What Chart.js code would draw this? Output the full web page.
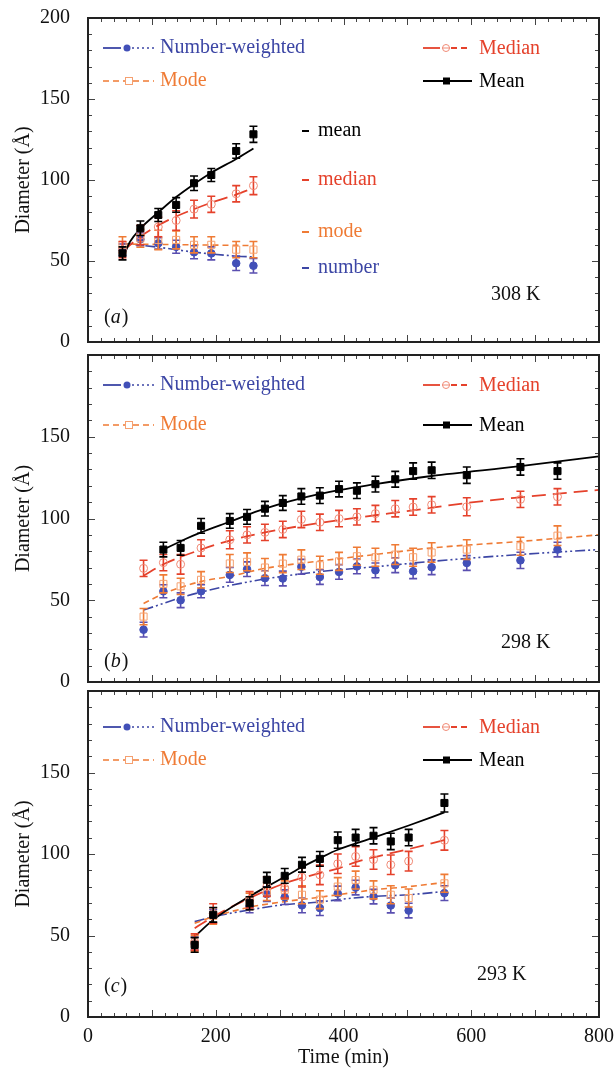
<!DOCTYPE html>
<html>
<head>
<meta charset="utf-8">
<script src="https://cdn.jsdelivr.net/npm/chart.js@4.4.1/dist/chart.umd.min.js"></script>
<style>
  html, body { margin: 0; padding: 0; background: #fff; }
  #wrap { position: relative; width: 616px; height: 1070px; overflow: hidden; }
  .panel { position: absolute; left: 0; width: 616px; }
</style>
</head>
<body>
<div id="wrap">
  <div class="panel" style="top:0px; height:352px"><canvas id="panel-a"></canvas></div>
  <div class="panel" style="top:344px; height:350px"><canvas id="panel-b"></canvas></div>
  <div class="panel" style="top:683px; height:387px"><canvas id="panel-c"></canvas></div>
</div>
<script>
// ---- panel (a) 308 K ----
const timeA = [54, 82, 110, 138, 166, 193, 232, 259];
const meanA = [54.7, 70.2, 78.4, 84.6, 98, 103.1, 117.9, 128.2];
const meanErrA = [4, 4.5, 4, 4.5, 4.5, 4, 4.5, 5];
const medianA = [57, 66, 71, 75, 82, 85, 91.5, 96.5];
const medianErrA = [5, 6, 6, 6, 5.5, 5, 5, 5.5];
const modeA = [60, 64, 63, 63, 60, 60, 57, 57];
const modeErrA = [5, 5.5, 6, 5.5, 5, 5, 5, 5];
const numberA = [57, 63.4, 60.9, 58.8, 55.4, 54.7, 48.6, 47.1];
const numberErrA = [3.5, 4, 3.5, 4, 4, 4, 4.5, 4.5];

const meanFitTimeA = [54, 66, 82, 110, 138, 166, 193, 232, 259];
const meanFitA = [51.5, 62, 70, 80, 89.5, 97.5, 104.5, 113, 119.5];
const medianFitTimeA = [54, 82, 110, 138, 166, 193, 232, 259];
const medianFitA = [56, 65, 72, 77.5, 82, 86, 91, 95];
const modeFitTimeA = [54, 160, 259];
const modeFitA = [60.5, 60, 59.5];
const numberFitTimeA = [54, 110, 166, 232, 259];
const numberFitA = [61, 58.5, 55.5, 53, 52.5];

// ---- panel (b) 298 K ----
const timeB = [87, 118, 145, 177, 222, 249, 277, 305, 334, 363, 393, 421, 450, 481, 509, 538, 593, 677, 735];
const meanB = [null, 81, 82, 95.5, 98.5, 101, 106, 109.5, 113.5, 114, 118, 117, 121, 124, 129, 129.5, 126.5, 131.5, 129];
const meanErrB = [0, 4.5, 4.5, 4.5, 4.5, 4.5, 4.5, 4.5, 4.8, 4.8, 4.8, 4.8, 4.8, 4.8, 5, 5, 5, 5, 5];
const medianB = [69.5, 73, 72, 82, 87, 90, 91.5, 93.3, 99.4, 97.7, 100, 101, 103, 106, 107, 108.4, 107.2, 111.7, 113.3];
const medianErrB = [5, 5, 6, 5, 5.5, 5, 5, 5, 5, 5, 5, 5, 5, 5, 5, 5, 5.5, 5, 5];
const modeB = [40, 60, 58.5, 62.5, 72.5, 73.5, 70, 72.4, 74.8, 71.4, 73.8, 76.9, 76.3, 77.9, 76.3, 79.2, 81, 83, 89.5];
const modeErrB = [5, 5.5, 5, 5, 5.5, 5.5, 5.5, 5.5, 6, 5.5, 5.5, 5.5, 5.5, 6, 5.5, 6, 6, 5.5, 6];
const numberB = [32, 55.5, 50, 55.5, 65.5, 69, 63.5, 63.3, 70.5, 64.2, 67.3, 70.7, 68.3, 71.4, 67.7, 70.2, 72.8, 74.4, 81];
const numberErrB = [4.5, 4, 4.5, 4, 4.5, 4.5, 4.5, 4.5, 4.5, 4.5, 4.5, 4.5, 4.5, 4.5, 4.5, 4.5, 4.5, 5, 4.5];

const meanFitTimeB = [118, 150, 177, 222, 277, 363, 450, 538, 677, 800];
const meanFitB = [81, 87, 91.5, 98, 106, 115, 121, 126, 132, 138];
const medianFitTimeB = [87, 118, 177, 222, 277, 334, 421, 509, 593, 677, 800];
const medianFitB = [65, 72, 81, 86.5, 91.5, 95.5, 100.5, 105, 109.5, 113, 117.5];
const modeFitTimeB = [87, 118, 177, 222, 277, 363, 450, 538, 677, 800];
const modeFitB = [48, 54, 61.5, 64.6, 69.5, 74, 78, 82, 86, 90];
const numberFitTimeB = [87, 145, 177, 222, 277, 363, 450, 538, 677, 800];
const numberFitB = [44, 51.5, 55, 59, 63, 67.5, 70.5, 73.8, 78, 81];

// ---- panel (c) 293 K ----
const timeC = [167, 196, 253, 280, 308, 335, 363, 391, 419, 447, 474, 502, 558];
const meanC = [44.2, 62.7, 69.8, 84.2, 86.6, 93.4, 97, 108.5, 110.1, 111.2, 107.7, 110.1, 131.3];
const meanErrC = [4.5, 4.5, 4, 4.5, 4.5, 4.5, 4.5, 5, 5, 5, 5, 5, 5.5];
const medianC = [46, 63.5, 72, 80, 79, 85.8, 87.2, 94, 98.5, 96.6, 93.4, 95.6, 108.4];
const medianErrC = [5, 6, 5, 6, 6, 6, 6, 6, 6, 6, 6, 6, 6];
const modeC = [45, 62, 71, 77, 78, 75, 72, 80, 84, 78, 75, 73, 82];
const modeErrC = [5, 5, 5, 5.5, 5.5, 5.5, 5.5, 5.5, 5.5, 5.5, 5.5, 5.5, 5.5];
const numberC = [45, 62, 68, 75.4, 73.5, 68.5, 66.8, 75.8, 79.4, 73.9, 68.4, 65.3, 76];
const numberErrC = [4, 4, 4, 4.5, 4.5, 4.5, 4.5, 4.5, 4.5, 4.5, 4.5, 4.5, 4.5];

const meanFitTimeC = [167, 196, 253, 280, 308, 335, 363, 391, 447, 502, 558];
const meanFitC = [49.3, 59.6, 74, 80, 86, 92, 97.5, 102.6, 110, 117.5, 125.5];
const medianFitTimeC = [167, 196, 253, 308, 363, 391, 419, 447, 502, 558];
const medianFitC = [54.5, 61.5, 73, 82, 88.3, 91, 95, 98, 103, 108.5];
const modeFitTimeC = [167, 196, 253, 308, 363, 391, 447, 502, 558];
const modeFitC = [57.5, 61.5, 67.4, 70.8, 73.5, 75, 78, 80, 82.5];
const numberFitTimeC = [167, 196, 253, 308, 363, 391, 447, 502, 558];
const numberFitC = [58.5, 61.5, 65.7, 69, 70.5, 72, 74, 75, 77];

const yTickLabels = ['0', '50', '100', '150', '200'];
const xTickLabels = ['0', '200', '400', '600', '800'];

const FONT = '"Liberation Serif", "DejaVu Serif", serif';
const BLACK = '#000000';
const RED = '#e5412b';
const ORANGE = '#ef7b35';
const BLUE = '#3c46a5';

function points(xs, ys, errs) {
  const out = [];
  xs.forEach(function(x, i) {
    if (ys[i] !== null) out.push({ x: x, y: ys[i], e: errs ? errs[i] : 0 });
  });
  return out;
}

// error bars are drawn just before each point set
const errorBars = {
  id: 'errorBars',
  beforeDatasetDraw(chart, args) {
    const ds = chart.data.datasets[args.index];
    if (!ds.errColor) return;
    const { ctx, scales: { x, y } } = chart;
    ctx.save();
    ctx.strokeStyle = ds.errColor;
    ctx.lineWidth = 1.6;
    ds.data.forEach(function(p) {
      const px = x.getPixelForValue(p.x);
      const top = y.getPixelForValue(p.y + p.e);
      const bot = y.getPixelForValue(p.y - p.e);
      ctx.beginPath();
      ctx.moveTo(px, top); ctx.lineTo(px, bot);
      ctx.moveTo(px - 4, top); ctx.lineTo(px + 4, top);
      ctx.moveTo(px - 4, bot); ctx.lineTo(px + 4, bot);
      ctx.stroke();
    });
    ctx.restore();
  }
};

// box frame with inward ticks on all four sides
const frame = {
  id: 'frame',
  afterDatasetsDraw(chart) {
    const { ctx, chartArea: a, scales: { x, y } } = chart;
    ctx.save();
    ctx.strokeStyle = '#444';
    ctx.lineWidth = 1;
    ctx.beginPath();
    for (let v = 0; v <= 800; v += 20) {
      const px = Math.round(x.getPixelForValue(v)) + 0.5;
      const len = v % 100 === 0 ? 7 : 4;
      ctx.moveTo(px, a.bottom); ctx.lineTo(px, a.bottom - len);
      ctx.moveTo(px, a.top); ctx.lineTo(px, a.top + len);
    }
    for (let v = 0; v <= 200; v += 10) {
      const py = Math.round(y.getPixelForValue(v)) + 0.5;
      const len = v % 50 === 0 ? 7 : 4;
      ctx.moveTo(a.left, py); ctx.lineTo(a.left + len, py);
      ctx.moveTo(a.right, py); ctx.lineTo(a.right - len, py);
    }
    ctx.stroke();
    ctx.strokeStyle = '#222';
    ctx.lineWidth = 2;
    ctx.strokeRect(a.left, a.top, a.right - a.left, a.bottom - a.top);
    ctx.restore();
  }
};

function sampleLine(ctx, x1, x2, yy, color, dash, width) {
  ctx.save();
  ctx.strokeStyle = color;
  ctx.lineWidth = width;
  ctx.setLineDash(dash);
  ctx.beginPath();
  ctx.moveTo(x1, yy); ctx.lineTo(x2, yy);
  ctx.stroke();
  ctx.restore();
}

// legend and labels inside each box
const notes = {
  id: 'notes',
  afterDraw(chart, args, opts) {
    const { ctx, chartArea: a } = chart;
    ctx.save();
    ctx.font = '20px ' + FONT;
    ctx.textBaseline = 'middle';
    ctx.textAlign = 'left';
    const r0 = a.top + opts.rows[0];
    const r1 = a.top + opts.rows[1];
    const L = a.left;

    // Number-weighted
    sampleLine(ctx, L + 15, L + 33, r0, BLUE, [], 1.8);
    sampleLine(ctx, L + 44, L + 66, r0, BLUE, [2, 3], 1.6);
    ctx.fillStyle = '#4250b8';
    ctx.beginPath(); ctx.arc(L + 39, r0, 3.5, 0, Math.PI * 2); ctx.fill();
    ctx.fillStyle = BLUE;
    ctx.fillText('Number-weighted', L + 72, r0);

    // Mode
    sampleLine(ctx, L + 15, L + 66, r1, ORANGE, [6, 4], 1.6);
    ctx.fillStyle = '#fff';
    ctx.fillRect(L + 37, r1 - 4, 8, 8);
    ctx.strokeStyle = '#f5a070'; ctx.lineWidth = 1;
    ctx.strokeRect(L + 37.5, r1 - 3.5, 7, 7);
    ctx.fillStyle = ORANGE;
    ctx.fillText('Mode', L + 72, r1);

    // Median
    sampleLine(ctx, L + 335, L + 352, r0, RED, [], 1.8);
    sampleLine(ctx, L + 363, L + 382, r0, RED, [6, 4], 1.8);
    ctx.strokeStyle = '#f08a76'; ctx.lineWidth = 1;
    ctx.beginPath(); ctx.arc(L + 358, r0, 3.5, 0, Math.PI * 2); ctx.stroke();
    sampleLine(ctx, L + 354, L + 362, r0, '#f08a76', [], 1);
    ctx.fillStyle = RED;
    ctx.fillText('Median', L + 391, r0 + 1);

    // Mean
    sampleLine(ctx, L + 335, L + 384, r1, BLACK, [], 1.8);
    ctx.fillStyle = BLACK;
    ctx.fillRect(L + 355, r1 - 3.5, 7, 7);
    ctx.fillText('Mean', L + 391, r1 + 1);

    // panel letter
    const ly = a.bottom - opts.letterUp;
    ctx.fillStyle = '#111';
    ctx.fillText('(', L + 16, ly);
    const w1 = ctx.measureText('(').width;
    ctx.font = 'italic 20px ' + FONT;
    ctx.fillText(opts.letter, L + 16 + w1, ly);
    const w2 = ctx.measureText(opts.letter).width;
    ctx.font = '20px ' + FONT;
    ctx.fillText(')', L + 16 + w1 + w2 + 1, ly);

    // temperature
    ctx.fillText(opts.temp, opts.tempX, a.bottom - opts.tempUp);

    // inline series labels (panel a only)
    (opts.inline || []).forEach(function(it) {
      const yy = a.top + it.dy;
      sampleLine(ctx, 302, 309, yy, it.color, [], 2);
      ctx.fillStyle = it.color;
      ctx.fillText(it.text, 318, yy);
    });
    ctx.restore();
  }
};

function makePanel(id, p) {
  const datasets = [
    { label: 'Mean', data: points(p.t, p.mean, p.meanErr), errColor: BLACK,
      pointStyle: 'rect', pointRadius: 5, backgroundColor: BLACK, borderColor: BLACK, borderWidth: 1 },
    { label: 'Median', data: points(p.t, p.median, p.medianErr), errColor: RED,
      pointStyle: 'circle', pointRadius: 4, backgroundColor: 'rgba(255,255,255,0)', borderColor: '#f08a76', borderWidth: 1 },
    { label: 'Mode', data: points(p.t, p.mode, p.modeErr), errColor: ORANGE,
      pointStyle: 'rect', pointRadius: 5, backgroundColor: 'rgba(255,255,255,0)', borderColor: '#f5a070', borderWidth: 1 },
    { label: 'Number-weighted', data: points(p.t, p.number, p.numberErr), errColor: '#5a4fb0',
      pointStyle: 'circle', pointRadius: 3.8, backgroundColor: '#4250b8', borderColor: '#4250b8', borderWidth: 1 },
    { label: 'mean', data: points(p.meanFitT, p.meanFit), showLine: true, pointRadius: 0,
      borderColor: BLACK, borderWidth: 1.8, cubicInterpolationMode: 'monotone' },
    { label: 'median', data: points(p.medianFitT, p.medianFit), showLine: true, pointRadius: 0,
      borderColor: RED, borderWidth: 1.8, borderDash: [14, 7], cubicInterpolationMode: 'monotone' },
    { label: 'mode', data: points(p.modeFitT, p.modeFit), showLine: true, pointRadius: 0,
      borderColor: ORANGE, borderWidth: 1.6, borderDash: [6, 4], cubicInterpolationMode: 'monotone' },
    { label: 'number', data: points(p.numberFitT, p.numberFit), showLine: true, pointRadius: 0,
      borderColor: BLUE, borderWidth: 1.6, borderDash: [10, 3, 2, 3, 2, 3], cubicInterpolationMode: 'monotone' }
  ];

  return new Chart(document.getElementById(id), {
    type: 'scatter',
    data: { datasets: datasets },
    plugins: [errorBars, frame, notes],
    options: {
      responsive: true,
      maintainAspectRatio: false,
      animation: false,
      events: [],
      layout: { padding: { top: p.padTop, right: 17, bottom: p.padBottom, left: 0 } },
      plugins: {
        legend: { display: false },
        tooltip: { enabled: false },
        notes: p.notes
      },
      scales: {
        x: {
          type: 'linear', min: 0, max: 800, display: p.showX,
          grid: { display: false }, border: { display: false },
          ticks: {
            stepSize: 200, padding: 0, color: '#111', maxRotation: 0,
            font: { family: FONT, size: 20 },
            callback: function(v) { return xTickLabels[v / 200]; }
          },
          title: { display: true, text: 'Time (min)', color: '#111',
                   font: { family: FONT, size: 20 }, padding: { top: 0, bottom: 0 } },
          afterFit: function(s) { if (p.showX) s.height = 53; }
        },
        y: {
          type: 'linear', min: 0, max: 200,
          grid: { display: false }, border: { display: false },
          ticks: {
            stepSize: 50, padding: 10, color: '#111',
            font: { family: FONT, size: 20 },
            callback: function(v) { return yTickLabels[v / 50]; }
          },
          afterBuildTicks: function(s) {
            s.ticks = s.ticks.filter(function(t) { return t.value <= p.maxLabel; });
          },
          title: { display: true, text: 'Diameter (Å)', color: '#111',
                   font: { family: FONT, size: 20 }, padding: { top: 12, bottom: 0 } },
          afterFit: function(s) { s.width = 88; s.paddingTop = 0; s.paddingBottom = 0; }
        }
      }
    }
  });
}

makePanel('panel-a', {
  t: timeA, mean: meanA, meanErr: meanErrA, median: medianA, medianErr: medianErrA,
  mode: modeA, modeErr: modeErrA, number: numberA, numberErr: numberErrA,
  meanFitT: meanFitTimeA, meanFit: meanFitA, medianFitT: medianFitTimeA, medianFit: medianFitA,
  modeFitT: modeFitTimeA, modeFit: modeFitA, numberFitT: numberFitTimeA, numberFit: numberFitA,
  padTop: 18, padBottom: 10, showX: false, maxLabel: 200,
  notes: {
    rows: [30, 63], letter: 'a', letterUp: 24, temp: '308 K', tempX: 491, tempUp: 47,
    inline: [
      { text: 'mean', color: BLACK, dy: 113 },
      { text: 'median', color: RED, dy: 162 },
      { text: 'mode', color: ORANGE, dy: 214 },
      { text: 'number', color: BLUE, dy: 250 }
    ]
  }
});

makePanel('panel-b', {
  t: timeB, mean: meanB, meanErr: meanErrB, median: medianB, medianErr: medianErrB,
  mode: modeB, modeErr: modeErrB, number: numberB, numberErr: numberErrB,
  meanFitT: meanFitTimeB, meanFit: meanFitB, medianFitT: medianFitTimeB, medianFit: medianFitB,
  modeFitT: modeFitTimeB, modeFit: modeFitB, numberFitT: numberFitTimeB, numberFit: numberFitB,
  padTop: 11, padBottom: 12, showX: false, maxLabel: 150,
  notes: { rows: [30, 70], letter: 'b', letterUp: 20, temp: '298 K', tempX: 501, tempUp: 39 }
});

makePanel('panel-c', {
  t: timeC, mean: meanC, meanErr: meanErrC, median: medianC, medianErr: medianErrC,
  mode: modeC, modeErr: modeErrC, number: numberC, numberErr: numberErrC,
  meanFitT: meanFitTimeC, meanFit: meanFitC, medianFitT: medianFitTimeC, medianFit: medianFitC,
  modeFitT: modeFitTimeC, modeFit: modeFitC, numberFitT: numberFitTimeC, numberFit: numberFitC,
  padTop: 8, padBottom: 0, showX: true, maxLabel: 150,
  notes: { rows: [36, 69], letter: 'c', letterUp: 30, temp: '293 K', tempX: 477, tempUp: 42 }
});
</script>
</body>
</html>
